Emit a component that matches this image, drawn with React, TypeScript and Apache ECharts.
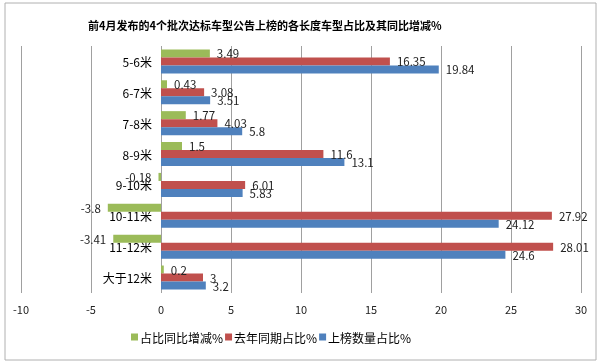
import React, { useEffect, useRef } from "react";
import * as echarts from "echarts";

const categories = ["5-6米", "6-7米", "7-8米", "8-9米", "9-10米", "10-11米", "11-12米", "大于12米"];
const changeValues = [3.49, 0.43, 1.77, 1.5, -0.18, -3.8, -3.41, 0.2];
const lastYearValues = [16.35, 3.08, 4.03, 11.6, 6.01, 27.92, 28.01, 3];
const shareValues = [19.84, 3.51, 5.8, 13.1, 5.83, 24.12, 24.6, 3.2];
const seriesNames = ["占比同比增减%", "去年同期占比%", "上榜数量占比%"];
const xTicks = { min: -10, max: 30, interval: 5 };

const FONT = "'Noto Sans CJK SC', 'Noto Sans', sans-serif";

function toData(vals: number[]) {
  return vals.map((v) => ({
    value: v,
    label: { position: v < 0 ? "left" : "right" },
  }));
}

export default function App() {
  const ref = useRef<HTMLDivElement>(null);
  useEffect(() => {
    if (!ref.current) return;
    const chart = echarts.init(ref.current, null, { renderer: "svg" });
    const colors = ["#9BBB59", "#C0504D", "#4F81BD"];
    const lists = [changeValues, lastYearValues, shareValues];
    const gridLeft = 21;
    const gridRight = 19;
    const plotWidth = 600 - gridLeft - gridRight;
    const zeroOffset = ((0 - xTicks.min) / (xTicks.max - xTicks.min)) * plotWidth;
    chart.setOption({
      animation: false,
      textStyle: { fontFamily: FONT },
      title: {
        text: "前4月发布的4个批次达标车型公告上榜的各长度车型占比及其同比增减%",
        left: 83,
        top: 14,
        textStyle: { fontSize: 11, fontWeight: "bold", color: "#000", fontFamily: FONT },
      },
      legend: {
        bottom: 16,
        left: 126,
        itemWidth: 7,
        itemHeight: 7,
        itemGap: 2,
        icon: "rect",
        textStyle: { fontSize: 12, color: "#000", fontFamily: FONT, padding: [0, 0, 0, -3] },
        data: seriesNames,
      },
      grid: { left: gridLeft, right: gridRight, top: 46, bottom: 71, containLabel: false },
      xAxis: {
        type: "value",
        min: xTicks.min,
        max: xTicks.max,
        interval: xTicks.interval,
        axisLine: { show: false },
        axisTick: { show: false },
        axisLabel: { fontSize: 11, color: "#222", margin: 10, fontFamily: FONT },
        splitLine: { show: true, lineStyle: { color: "#a0a0a0", width: 1 } },
      },
      yAxis: {
        type: "category",
        data: categories,
        inverse: true,
        position: "left",
        offset: -zeroOffset,
        axisLine: { show: false, onZero: false },
        axisTick: { show: false },
        axisLabel: { fontSize: 12, color: "#000", margin: 9, fontFamily: FONT },
        splitLine: { show: false },
      },
      series: lists.map((vals, i) => ({
        name: seriesNames[i],
        type: "bar",
        data: toData(vals),
        itemStyle: { color: colors[i] },
        barGap: "0%",
        barCategoryGap: "22%",
        label: {
          show: true,
          distance: 7,
          fontSize: 11.5,
          color: "#222",
          fontFamily: FONT,
        },
      })),
      graphic: [
        {
          type: "rect",
          shape: { x: 5, y: 3, width: 591, height: 357 },
          style: { fill: "none", stroke: "#b0b0b0", lineWidth: 1 },
          silent: true,
        },
      ],
    });
    return () => chart.dispose();
  }, []);
  return <div ref={ref} style={{ position: "fixed", left: 0, top: 0, width: 600, height: 364 }} />;
}
